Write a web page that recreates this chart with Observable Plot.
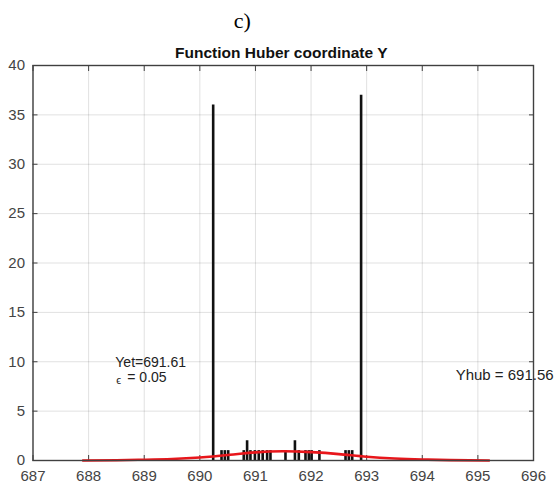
<!DOCTYPE html>
<html>
<head>
<meta charset="utf-8">
<script src="https://cdn.jsdelivr.net/npm/d3@7"></script>
<script src="https://cdn.jsdelivr.net/npm/@observablehq/plot@0.6"></script>
<style>
  body { margin: 0; background: #fff; }
  #chart { width: 560px; height: 490px; }
</style>
</head>
<body>
<div id="chart"></div>
<script>
// ---- data ----
const xTicks = [687, 688, 689, 690, 691, 692, 693, 694, 695, 696];
const yTicks = [0, 5, 10, 15, 20, 25, 30, 35, 40];

// histogram bar positions (coordinate Y) and counts
const barX = [690.24, 690.39, 690.45, 690.51, 690.79, 690.85, 690.91, 690.99,
              691.06, 691.13, 691.21, 691.27, 691.54, 691.71, 691.78, 691.90,
              691.96, 692.01, 692.15, 692.62, 692.68, 692.74, 692.90];
const barCount = [36, 1, 1, 1, 1, 2, 1, 1,
                  1, 1, 1, 1, 1, 2, 1, 1,
                  1, 1, 1, 1, 1, 1, 37];

// red Huber function curve
const curveX = [687.9, 688.5, 689, 689.5, 690, 690.5, 691, 691.5, 692, 692.5, 693, 693.5, 694, 694.5, 695.2];
const curveY = [0, 0.03, 0.08, 0.15, 0.3, 0.55, 0.82, 0.93, 0.85, 0.65, 0.38, 0.2, 0.1, 0.04, 0];

const panelLabel = "c)";
const title = "Function Huber coordinate Y";
const yetLabel = "Yet=691.61";
const epsSymbol = "ϵ";
const epsLabel = "= 0.05";
const yhubLabel = "Yhub = 691.56";

const bars = barX.map((x, i) => ({x, n: barCount[i]}));
const curve = curveX.map((x, i) => ({x, y: curveY[i]}));

const font = "Liberation Sans, Arial, sans-serif";
const tickColor = "#444";
const frameColor = "#404040";

const chart = Plot.plot({
  width: 560,
  height: 490,
  marginLeft: 32.5,
  marginRight: 27,
  marginTop: 65,
  marginBottom: 30,
  style: {fontFamily: font, background: "#fff"},
  x: {domain: [687, 696], ticks: xTicks},
  y: {domain: [0, 40], ticks: yTicks},
  marks: [
    Plot.gridX(xTicks, {stroke: "#000", strokeOpacity: 0.12}),
    Plot.gridY(yTicks, {stroke: "#000", strokeOpacity: 0.12}),
    // tick labels
    Plot.axisX(xTicks, {anchor: "bottom", tickSize: 0, tickPadding: 10, fontSize: 15, fill: tickColor, label: null}),
    Plot.axisY(yTicks, {anchor: "left", tickSize: 0, tickPadding: 8, fontSize: 15, fill: tickColor, label: null}),
    // inward ticks on all sides
    Plot.axisX(xTicks, {anchor: "bottom", tickSize: -5, tickFormat: () => "", stroke: frameColor, label: null}),
    Plot.axisX(xTicks, {anchor: "top", tickSize: -5, tickFormat: () => "", stroke: frameColor, label: null}),
    Plot.axisY(yTicks, {anchor: "left", tickSize: -5, tickFormat: () => "", stroke: frameColor, label: null}),
    Plot.axisY(yTicks, {anchor: "right", tickSize: -5, tickFormat: () => "", stroke: frameColor, label: null}),
    // histogram bars
    Plot.ruleX(bars, {x: "x", y1: 0, y2: "n", stroke: "#111", strokeWidth: 2.6}),
    // Huber curve
    Plot.line(curve, {x: "x", y: "y", stroke: "#e8161b", strokeWidth: 2.6, curve: "natural"}),
    Plot.frame({stroke: frameColor, strokeWidth: 1.4}),
    // annotations
    Plot.text([yetLabel], {x: 688.48, y: 9.9, text: d => d, textAnchor: "start", lineAnchor: "middle", fontSize: 14, fill: "#222"}),
    Plot.text([epsSymbol], {x: 688.48, y: 8.4, dy: 3, dx: 1, text: d => d, textAnchor: "start", lineAnchor: "middle", fontSize: 11, fill: "#222"}),
    Plot.text([epsLabel], {x: 688.48, y: 8.4, dx: 12, text: d => d, textAnchor: "start", lineAnchor: "middle", fontSize: 14, fill: "#222"}),
    Plot.text([yhubLabel], {x: 694.6, y: 8.6, text: d => d, textAnchor: "start", lineAnchor: "middle", fontSize: 15, fill: "#222", clip: false}),
    // titles
    Plot.text([title], {frameAnchor: "top", dx: -2, dy: -12, text: d => d, fontSize: 15.5, fontWeight: "bold", fill: "#111", lineAnchor: "middle"}),
    Plot.text([panelLabel], {frameAnchor: "top", dx: -41, dy: -45, text: d => d, fontSize: 22, fontFamily: "Liberation Serif, Times New Roman, serif", fill: "#000", lineAnchor: "middle"})
  ]
});
document.getElementById("chart").appendChild(chart);
</script>
</body>
</html>
